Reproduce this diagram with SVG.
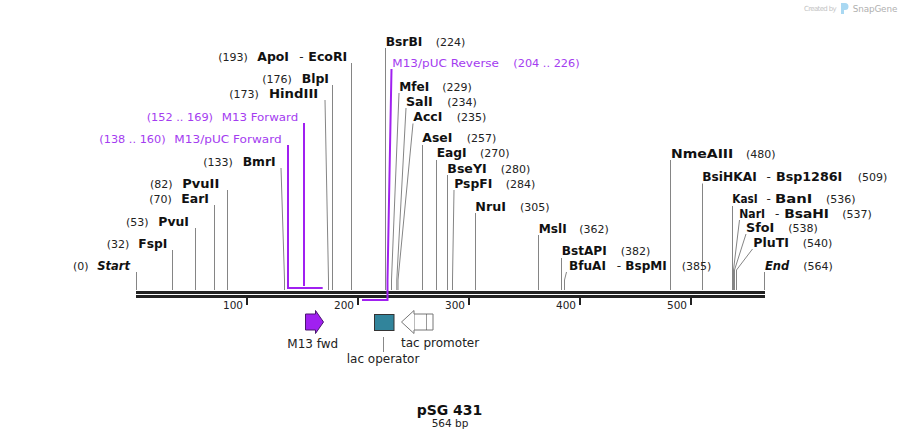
<svg xmlns="http://www.w3.org/2000/svg" width="901" height="441" viewBox="0 0 901 441">
<style>
text{font-family:"DejaVu Sans","Liberation Sans",sans-serif;}
.nm{font-size:12.5px;font-weight:bold;fill:#111;}
.nmi{font-size:12.5px;font-weight:bold;font-style:italic;fill:#111;}
.num{font-size:11px;fill:#222;}
.dash{font-size:12px;fill:#222;}
.pr{font-size:11.3px;fill:#a43cf0;}
.tk{font-size:10.5px;fill:#222;}
.ft{font-size:12px;fill:#222;}
.site{fill:none;stroke:#858585;stroke-width:1;}
.prl{fill:none;stroke:#a020f0;stroke-width:2;}
</style>
<rect width="901" height="441" fill="#fff"/>

<g id="watermark">
<text x="804" y="11" font-size="7" fill="#c4c4c4" textLength="32.7">Created by</text>
<path d="M841,3 h4 a3.5,3.5 0 0 1 0,7 h-1 v4 h-3 z" fill="#a9d8f2"/>
<text x="852.7" y="11.5" font-size="8.8" fill="#b0b0b0" textLength="44.6">SnapGene</text>
</g>

<g id="connectors">
<path class="site" d="M136.5 272V290"/>
<path class="site" d="M172.5 250V290"/>
<path class="site" d="M195.5 228V290"/>
<path class="site" d="M214.5 205V290"/>
<path class="site" d="M227.5 190V290"/>
<path class="site" d="M281 168L284.5 280V290"/>
<path class="site" d="M325 100L328.5 280V290"/>
<path class="site" d="M332.5 85V290"/>
<path class="site" d="M351.5 63V290"/>
<path class="site" d="M385.5 48V290"/>
<path class="site" d="M399 93L391.5 280V290"/>
<path class="site" d="M406 108L396.8 280V290"/>
<path class="site" d="M413 123.5L398 280V290"/>
<path class="site" d="M422.5 145V290"/>
<path class="site" d="M436.5 160V290"/>
<path class="site" d="M447.5 175V290"/>
<path class="site" d="M454 190L452.5 280V290"/>
<path class="site" d="M475.5 213V290"/>
<path class="site" d="M538.5 235V290"/>
<path class="site" d="M561.5 258V290"/>
<path class="site" d="M566.5 272L564.5 280V290"/>
<path class="site" d="M670.5 160V290"/>
<path class="site" d="M702.5 183.5V290"/>
<path class="site" d="M732.5 206V290"/>
<path class="site" d="M739.5 220L733.5 270V290"/>
<path class="site" d="M746 234L734.5 270V290"/>
<path class="site" d="M752.5 249L736.5 270V290"/>
<path class="site" d="M764.5 272V290"/>
<path class="prl" d="M288 145V288H322.7"/>
<path class="prl" d="M304 123V286"/>
</g>

<g id="backbone">
<rect x="136" y="291" width="629" height="3" fill="#222"/>
<rect x="136" y="295" width="629" height="3" fill="#222"/>
<g fill="#222">
<rect x="246" y="297.5" width="2" height="7.5"/>
<rect x="357" y="297.5" width="2" height="7.5"/>
<rect x="468" y="297.5" width="2" height="7.5"/>
<rect x="579" y="297.5" width="2" height="7.5"/>
<rect x="690" y="297.5" width="2" height="7.5"/>
</g>
<text class="tk" x="243" y="308.5" text-anchor="end">100</text>
<text class="tk" x="354" y="308.5" text-anchor="end">200</text>
<text class="tk" x="465" y="308.5" text-anchor="end">300</text>
<text class="tk" x="576" y="308.5" text-anchor="end">400</text>
<text class="tk" x="687" y="308.5" text-anchor="end">500</text>
</g>

<g id="primer-rev-line">
<path class="prl" d="M391.5 69L387.5 280V300H362"/>
</g>

<g id="site-start"><text class="num" x="73" y="270">(0)</text><text class="nmi" x="97.3" y="270" textLength="32.7" lengthAdjust="spacingAndGlyphs">Start</text></g>
<g id="site-FspI"><text class="num" x="106.7" y="247.7">(32)</text><text class="nm" x="138.3" y="247.7" textLength="29" lengthAdjust="spacingAndGlyphs">FspI</text></g>
<g id="site-PvuI"><text class="num" x="126" y="225.7">(53)</text><text class="nm" x="158.3" y="225.7" textLength="30.7" lengthAdjust="spacingAndGlyphs">PvuI</text></g>
<g id="site-EarI"><text class="num" x="149.3" y="202.7">(70)</text><text class="nm" x="181.3" y="202.7" textLength="27.7" lengthAdjust="spacingAndGlyphs">EarI</text></g>
<g id="site-PvuII"><text class="num" x="150" y="187.7">(82)</text><text class="nm" x="182.3" y="187.7" textLength="37" lengthAdjust="spacingAndGlyphs">PvuII</text></g>
<g id="site-BmrI"><text class="num" x="203.3" y="165.7">(133)</text><text class="nm" x="242.7" y="165.7" textLength="33" lengthAdjust="spacingAndGlyphs">BmrI</text></g>
<g id="primer-M13pUCfwd"><text class="pr" x="99.3" y="142.7">(138 .. 160)</text><text class="pr" x="174.3" y="142.7" textLength="107.4" lengthAdjust="spacingAndGlyphs">M13/pUC Forward</text></g>
<g id="primer-M13fwd"><text class="pr" x="146.7" y="120.7">(152 .. 169)</text><text class="pr" x="221.7" y="120.7" textLength="76.6" lengthAdjust="spacingAndGlyphs">M13 Forward</text></g>
<g id="site-HindIII"><text class="num" x="229.3" y="97.7">(173)</text><text class="nm" x="269" y="97.7" textLength="49.3" lengthAdjust="spacingAndGlyphs">HindIII</text></g>
<g id="site-BlpI"><text class="num" x="262.3" y="82.7">(176)</text><text class="nm" x="301.7" y="82.7" textLength="27.3" lengthAdjust="spacingAndGlyphs">BlpI</text></g>
<g id="site-ApoI-EcoRI"><text class="num" x="218.3" y="60.7">(193)</text><text class="nm" x="257.3" y="60.7" textLength="31.7" lengthAdjust="spacingAndGlyphs">ApoI</text><text class="dash" x="299.3" y="60.7">-</text><text class="nm" x="308.3" y="60.7" textLength="39" lengthAdjust="spacingAndGlyphs">EcoRI</text></g>
<g id="site-BsrBI"><text class="nm" x="385.7" y="45.7" textLength="36.6" lengthAdjust="spacingAndGlyphs">BsrBI</text><text class="num" x="435.7" y="45.7">(224)</text></g>
<g id="primer-M13pUCrev"><text class="pr" x="392.3" y="67.3" textLength="106.7" lengthAdjust="spacingAndGlyphs">M13/pUC Reverse</text><text class="pr" x="513.3" y="67.3">(204 .. 226)</text></g>
<g id="site-MfeI"><text class="nm" x="399.3" y="91" textLength="30" lengthAdjust="spacingAndGlyphs">MfeI</text><text class="num" x="442.3" y="91">(229)</text></g>
<g id="site-SalI"><text class="nm" x="406" y="105.7" textLength="26.7" lengthAdjust="spacingAndGlyphs">SalI</text><text class="num" x="447.3" y="105.7">(234)</text></g>
<g id="site-AccI"><text class="nm" x="413.3" y="121" textLength="29" lengthAdjust="spacingAndGlyphs">AccI</text><text class="num" x="456.7" y="121">(235)</text></g>
<g id="site-AseI"><text class="nm" x="422.3" y="142.3" textLength="30" lengthAdjust="spacingAndGlyphs">AseI</text><text class="num" x="466.7" y="142.3">(257)</text></g>
<g id="site-EagI"><text class="nm" x="436.7" y="157.3" textLength="30" lengthAdjust="spacingAndGlyphs">EagI</text><text class="num" x="480" y="157.3">(270)</text></g>
<g id="site-BseYI"><text class="nm" x="447.3" y="172.7" textLength="39.4" lengthAdjust="spacingAndGlyphs">BseYI</text><text class="num" x="500.7" y="172.7">(280)</text></g>
<g id="site-PspFI"><text class="nm" x="454.3" y="187.7" textLength="38" lengthAdjust="spacingAndGlyphs">PspFI</text><text class="num" x="505.7" y="187.7">(284)</text></g>
<g id="site-NruI"><text class="nm" x="475.3" y="211" textLength="30.7" lengthAdjust="spacingAndGlyphs">NruI</text><text class="num" x="520" y="211">(305)</text></g>
<g id="site-MslI"><text class="nm" x="538.7" y="232.7" textLength="28" lengthAdjust="spacingAndGlyphs">MslI</text><text class="num" x="579.3" y="232.7">(362)</text></g>
<g id="site-BstAPI"><text class="nm" x="561.7" y="255.3" textLength="45" lengthAdjust="spacingAndGlyphs">BstAPI</text><text class="num" x="620.7" y="255.3">(382)</text></g>
<g id="site-BfuAI-BspMI"><text class="nm" x="569" y="270" textLength="37" lengthAdjust="spacingAndGlyphs">BfuAI</text><text class="dash" x="616.7" y="270">-</text><text class="nm" x="625.3" y="270" textLength="41.4" lengthAdjust="spacingAndGlyphs">BspMI</text><text class="num" x="681.7" y="270">(385)</text></g>
<g id="site-NmeAIII"><text class="nm" x="671" y="158.3" textLength="62.3" lengthAdjust="spacingAndGlyphs">NmeAIII</text><text class="num" x="746" y="158.3">(480)</text></g>
<g id="site-BsiHKAI-Bsp1286I"><text class="nm" x="702.3" y="181" textLength="54.4" lengthAdjust="spacingAndGlyphs">BsiHKAI</text><text class="dash" x="766.5" y="181">-</text><text class="nm" x="776" y="181" textLength="66.3" lengthAdjust="spacingAndGlyphs">Bsp1286I</text><text class="num" x="857.7" y="181">(509)</text></g>
<g id="site-KasI-BanI"><text class="nm" x="732.3" y="203.3" textLength="25.4" lengthAdjust="spacingAndGlyphs">KasI</text><text class="dash" x="766.5" y="203.3">-</text><text class="nm" x="775" y="203.3" textLength="37.3" lengthAdjust="spacingAndGlyphs">BanI</text><text class="num" x="826" y="203.3">(536)</text></g>
<g id="site-NarI-BsaHI"><text class="nm" x="739.3" y="217.7" textLength="25.7" lengthAdjust="spacingAndGlyphs">NarI</text><text class="dash" x="775" y="217.7">-</text><text class="nm" x="784.3" y="217.7" textLength="44.7" lengthAdjust="spacingAndGlyphs">BsaHI</text><text class="num" x="842.3" y="217.7">(537)</text></g>
<g id="site-SfoI"><text class="nm" x="746" y="231.7" textLength="28.3" lengthAdjust="spacingAndGlyphs">SfoI</text><text class="num" x="788.3" y="231.7">(538)</text></g>
<g id="site-PluTI"><text class="nm" x="753.3" y="246.7" textLength="35.7" lengthAdjust="spacingAndGlyphs">PluTI</text><text class="num" x="802.7" y="246.7">(540)</text></g>
<g id="site-end"><text class="nmi" x="765" y="270" textLength="24.3" lengthAdjust="spacingAndGlyphs">End</text><text class="num" x="803.3" y="270">(564)</text></g>

<g id="feature-M13fwd">
<polygon points="305.5,314 315.5,314 315.5,310.5 323.5,322 315.5,333.5 315.5,330 305.5,330" fill="#a020f0" stroke="#4b1670" stroke-width="1"/>
<text class="ft" x="287.3" y="347.7">M13 fwd</text>
</g>
<g id="feature-lacoperator">
<rect x="374.5" y="314.5" width="19.5" height="16" fill="#31849b" stroke="#333" stroke-width="1"/>
<path d="M383.5 337V352" stroke="#888" stroke-width="1"/>
<text class="ft" x="346.7" y="362.5">lac operator</text>
</g>
<g id="feature-tacpromoter">
<polygon points="401.5,322 414,310.5 414,314 433,314 433,330 414,330 414,333.5" fill="#fff" stroke="#777" stroke-width="1"/>
<path d="M426.5 314.5V329.5" stroke="#333" stroke-width="1" stroke-dasharray="1,1"/>
<path d="M414.5 314.5V329.5" stroke="#777" stroke-width="1" stroke-dasharray="1,1"/>
<text class="ft" x="401" y="347">tac promoter</text>
</g>

<g id="title">
<text x="449.5" y="415" text-anchor="middle" font-size="14" font-weight="bold" fill="#111">pSG 431</text>
<text x="450" y="427.3" text-anchor="middle" font-size="10.5" fill="#222">564 bp</text>
</g>
</svg>
